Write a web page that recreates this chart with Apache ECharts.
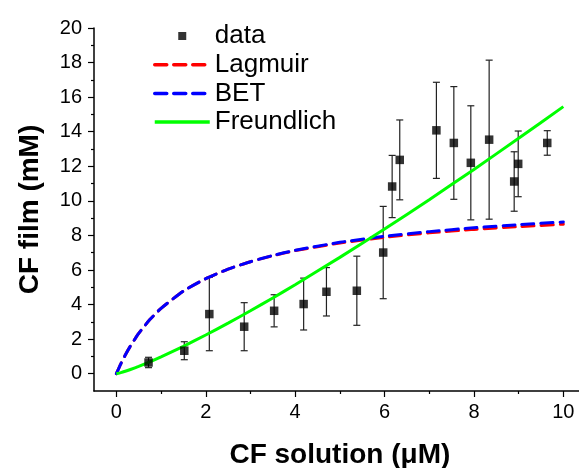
<!DOCTYPE html>
<html>
<head>
<meta charset="utf-8">
<script src="https://cdn.jsdelivr.net/npm/echarts@6/dist/echarts.min.js"></script>
<style>
  html, body { margin: 0; padding: 0; background: #fff; }
  #chart { width: 579px; height: 468px; }
</style>
</head>
<body>
<div id="chart"></div>
<script>
// measured points
var dataX = [0.72, 1.52, 2.08, 2.86, 3.53, 4.19, 4.70, 5.38, 5.97, 6.17, 6.34, 7.16, 7.55, 7.93, 8.34, 8.90, 8.99, 9.64]
var dataY = [0.65, 1.33, 3.45, 2.72, 3.64, 4.03, 4.74, 4.80, 7.01, 10.83, 12.37, 14.08, 13.35, 12.20, 13.54, 11.12, 12.14, 13.35]
var dataErr = [0.3, 0.52, 2.12, 1.39, 0.93, 1.5, 1.4, 2.0, 2.67, 1.8, 2.31, 2.78, 3.26, 3.3, 4.6, 1.72, 1.9, 0.71]

// fitted curves
var fitX = [0, 0.1, 0.2, 0.3, 0.5, 0.75, 1, 1.5, 2, 2.5, 3, 3.5, 4, 5, 6, 7, 8, 9, 10]
var langmuirY = [0, 0.57, 1.08, 1.54, 2.33, 3.13, 3.78, 4.78, 5.50, 6.05, 6.48, 6.83, 7.12, 7.56, 7.89, 8.15, 8.35, 8.51, 8.65]
var betY = [0, 0.57, 1.08, 1.54, 2.33, 3.13, 3.78, 4.78, 5.50, 6.05, 6.48, 6.84, 7.14, 7.60, 7.95, 8.22, 8.44, 8.62, 8.78]
var freundlichY = [0, 0.062, 0.141, 0.23, 0.424, 0.69, 0.975, 1.586, 2.24, 2.93, 3.64, 4.38, 5.15, 6.73, 8.37, 10.07, 11.82, 13.62, 15.45]

// ticks
var xMajor = [0, 2, 4, 6, 8, 10]
var xMinor = [1, 3, 5, 7, 9]
var yMajor = [0, 2, 4, 6, 8, 10, 12, 14, 16, 18, 20]
var yMinor = [1, 3, 5, 7, 9, 11, 13, 15, 17, 19]

function pairs(xs, ys) {
  return xs.map(function (x, i) { return [x, ys[i]] })
}

var font = 'Liberation Sans, Arial, sans-serif'
var chart = echarts.init(document.getElementById('chart'))

// axis that only draws a set of ticks (no line, no labels)
function tickAxis(pos, min, max, values, len) {
  return {
    type: 'value',
    position: pos,
    min: min,
    max: max,
    splitLine: { show: false },
    axisLine: { show: false, onZero: false },
    axisLabel: { show: false },
    axisTick: { show: true, length: len, customValues: values, lineStyle: { color: '#000', width: 1.2 } }
  }
}

var option = {
  backgroundColor: '#fff',
  animation: false,
  grid: { left: 94, top: 28, width: 491.7, height: 363, outerBoundsMode: 'none' },
  legend: {
    orient: 'vertical',
    left: 153,
    top: 23,
    padding: 0,
    itemWidth: 55,
    itemHeight: 8,
    itemGap: 2.7,
    lineStyle: { width: 3.5 },
    textStyle: { color: '#000', fontSize: 26, fontFamily: font },
    data: [
      { name: 'data', icon: 'path://M0,0L10,0L10,10L0,10Z' },
      { name: 'Lagmuir', itemStyle: { opacity: 0 } },
      { name: 'BET', itemStyle: { opacity: 0 } },
      { name: 'Freundlich', itemStyle: { opacity: 0 } }
    ]
  },
  xAxis: [
    {
      type: 'value',
      position: 'bottom',
      min: -0.5,
      max: 10.5,
      splitLine: { show: false },
      axisLine: { show: true, onZero: false, lineStyle: { color: '#000', width: 1.5 } },
      axisTick: { show: false },
      axisLabel: { color: '#000', fontSize: 20, fontFamily: font, customValues: xMajor, margin: 11 },
      name: 'CF solution (\u03bcM)',
      nameLocation: 'middle',
      nameGap: 50,
      nameTextStyle: { color: '#000', fontSize: 28, fontWeight: 'bold', fontFamily: font }
    },
    tickAxis('bottom', -0.5, 10.5, xMajor, 6),
    tickAxis('bottom', -0.5, 10.5, xMinor, 3)
  ],
  yAxis: [
    {
      type: 'value',
      position: 'left',
      min: -1,
      max: 20,
      splitLine: { show: false },
      axisLine: { show: true, onZero: false, lineStyle: { color: '#000', width: 1.5 } },
      axisTick: { show: false },
      axisLabel: { color: '#000', fontSize: 20, fontFamily: font, customValues: yMajor, margin: 12 },
      name: 'CF film (mM)',
      nameLocation: 'middle',
      nameGap: 50,
      nameTextStyle: { color: '#000', fontSize: 28, fontWeight: 'bold', fontFamily: font }
    },
    tickAxis('left', -1, 20, yMajor, 6),
    tickAxis('left', -1, 20, yMinor, 3)
  ],
  series: [
    {
      name: 'err',
      type: 'custom',
      z: 2,
      data: dataX.map(function (x, i) { return [x, dataY[i] - dataErr[i], dataY[i] + dataErr[i]] }),
      renderItem: function (params, api) {
        var lo = api.coord([api.value(0), api.value(1)])
        var hi = api.coord([api.value(0), api.value(2)])
        var w = 3.5
        var st = { stroke: '#222', lineWidth: 1.2 }
        return {
          type: 'group',
          children: [
            { type: 'line', shape: { x1: lo[0], y1: lo[1], x2: hi[0], y2: hi[1] }, style: st },
            { type: 'line', shape: { x1: lo[0] - w, y1: lo[1], x2: lo[0] + w, y2: lo[1] }, style: st },
            { type: 'line', shape: { x1: hi[0] - w, y1: hi[1], x2: hi[0] + w, y2: hi[1] }, style: st }
          ]
        }
      }
    },
    {
      name: 'Lagmuir',
      type: 'line',
      z: 3,
      symbol: 'none',
      smooth: 0.2,
      data: pairs(fitX, langmuirY),
      lineStyle: { color: '#ff0000', width: 3, type: [12, 7], cap: 'round' },
      itemStyle: { color: '#ff0000' }
    },
    {
      name: 'BET',
      type: 'line',
      z: 4,
      symbol: 'none',
      smooth: 0.2,
      data: pairs(fitX, betY),
      lineStyle: { color: '#0000ff', width: 3, type: [12, 7], cap: 'round' },
      itemStyle: { color: '#0000ff' }
    },
    {
      name: 'Freundlich',
      type: 'line',
      z: 5,
      symbol: 'none',
      smooth: 0.2,
      data: pairs(fitX, freundlichY),
      lineStyle: { color: '#00ff00', width: 3 },
      itemStyle: { color: '#00ff00' }
    },
    {
      name: 'data',
      type: 'scatter',
      z: 6,
      symbol: 'rect',
      symbolSize: 8.5,
      data: pairs(dataX, dataY),
      itemStyle: { color: '#000' }
    }
  ]
}
chart.setOption(option)
</script>
</body>
</html>
